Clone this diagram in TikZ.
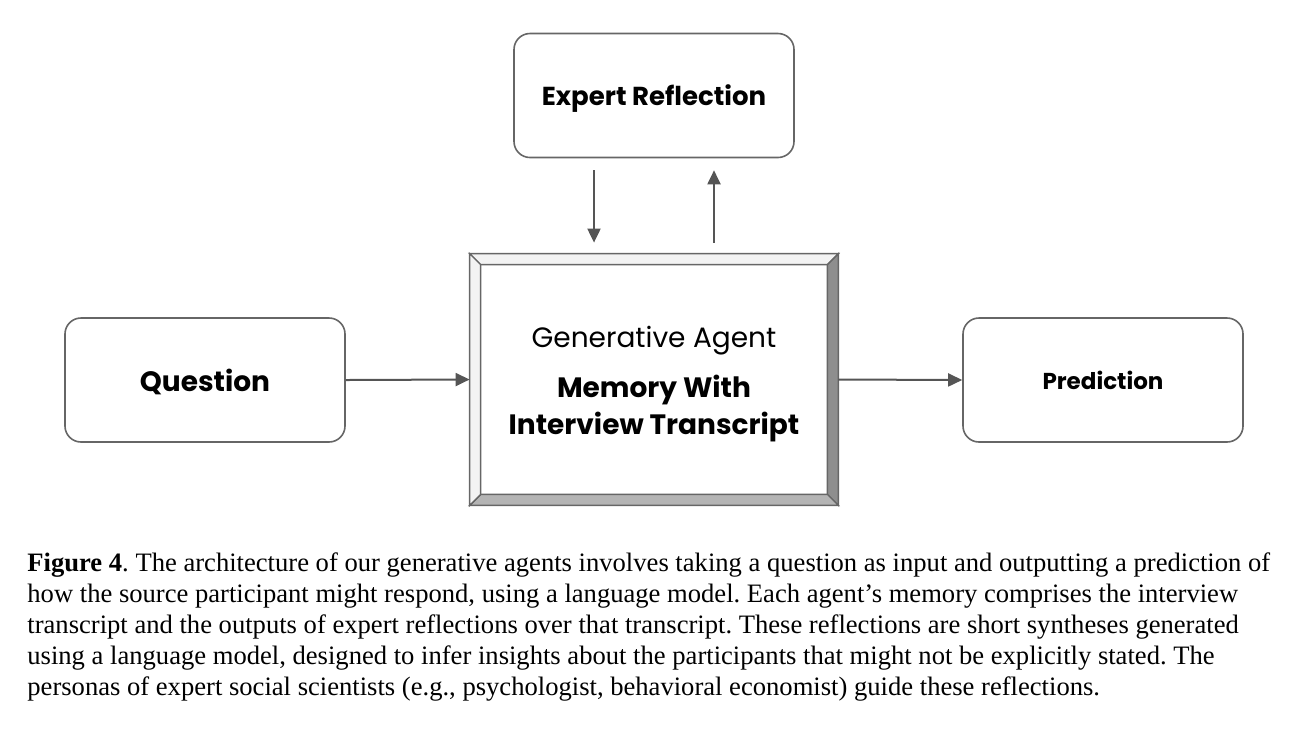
\documentclass[tikz,border=0pt]{standalone}
\usepackage{xcolor}
\usepackage{fontspec}
\setmainfont{Liberation Serif}
\newfontfamily\diagfont{Poppins}
\usepackage{tikz}
\usetikzlibrary{positioning, arrows.meta, calc}
\definecolor{edgegray}{HTML}{666666}
\definecolor{arrowgray}{HTML}{555555}
\definecolor{bevellight}{HTML}{F3F3F3}
\definecolor{beveldark}{HTML}{8E8E8E}
\definecolor{bevelmid}{HTML}{B4B4B4}

\tikzset{
  block/.style={draw=edgegray, line width=0.8pt, rounded corners=8pt,
    minimum width=140pt, minimum height=62pt, align=center, text depth=0pt,
    font=\diagfont\bfseries\fontsize{13}{15}\selectfont},
  flow/.style={draw=arrowgray, line width=1pt,
    -{Triangle[length=7pt, width=6.5pt]}},
  bevel/.style={draw=edgegray, line width=0.7pt, line join=miter},
}

\begin{document}
\frenchspacing
\begin{tikzpicture}[x=0.5pt, y=-0.5pt]
  \useasboundingbox (0,0) rectangle (1304,730);

  % boxes
  \node[block] (reflect) at (654,95.5) {Expert Reflection};
  \node[block, font=\diagfont\bfseries\fontsize{14}{16}\selectfont]
    (question) at (205,380) {Question};
  \node[block, font=\diagfont\bfseries\fontsize{11.5}{14}\selectfont]
    (predict) at (1103,380) {Prediction};

  % agent with bevelled frame
  \node[minimum width=184pt, minimum height=125.5pt, inner sep=0pt]
    (agent) at (654,379.5) {};
  \coordinate (inw) at ($(agent.north west)+(11,11)$);
  \coordinate (ine) at ($(agent.north east)+(-11,11)$);
  \coordinate (ise) at ($(agent.south east)+(-11,-11)$);
  \coordinate (isw) at ($(agent.south west)+(11,-11)$);
  \filldraw[bevel, fill=bevellight] (agent.north west) -- (agent.north east) -- (ine) -- (inw) -- cycle;
  \filldraw[bevel, fill=beveldark] (agent.north east) -- (agent.south east) -- (ise) -- (ine) -- cycle;
  \filldraw[bevel, fill=bevelmid] (agent.south east) -- (agent.south west) -- (isw) -- (ise) -- cycle;
  \filldraw[bevel, fill=bevellight] (agent.south west) -- (agent.north west) -- (inw) -- (isw) -- cycle;
  \node[align=center, font=\diagfont\fontsize{14}{18.5}\selectfont] (agenttext) at (654,384.5)
    {Generative Agent\\[6.5pt]
     \bfseries Memory With\\
     \bfseries Interview Transcript};

  % connectors
  \draw[flow] (question.east) -- (agent.west);
  \draw[flow] (agent.east) -- (predict.west);
  \coordinate (downtop) at ($(reflect.south)+(-60,12)$);
  \coordinate (downend) at ($(agent.north)+(-60,-11)$);
  \coordinate (uptop) at ($(reflect.south)+(60,12)$);
  \coordinate (upend) at ($(agent.north)+(60,-11)$);
  \draw[flow] (downtop) -- (downend);
  \draw[flow] (upend) -- (uptop);

  % caption
  \node[anchor=north west, inner sep=0pt, align=left,
        font=\fontsize{13.3}{15.5}\selectfont] (caption) at (27,552)
    {\textbf{Figure 4}. The architecture of our generative agents involves taking a question as input and outputting a prediction of\\
     how the source participant might respond, using a language model. Each agent's memory comprises the interview\\
     transcript and the outputs of expert reflections over that transcript. These reflections are short syntheses generated\\
     using a language model, designed to infer insights about the participants that might not be explicitly stated. The\\
     personas of expert social scientists (e.g., psychologist, behavioral economist) guide these reflections.};
\end{tikzpicture}
\end{document}
